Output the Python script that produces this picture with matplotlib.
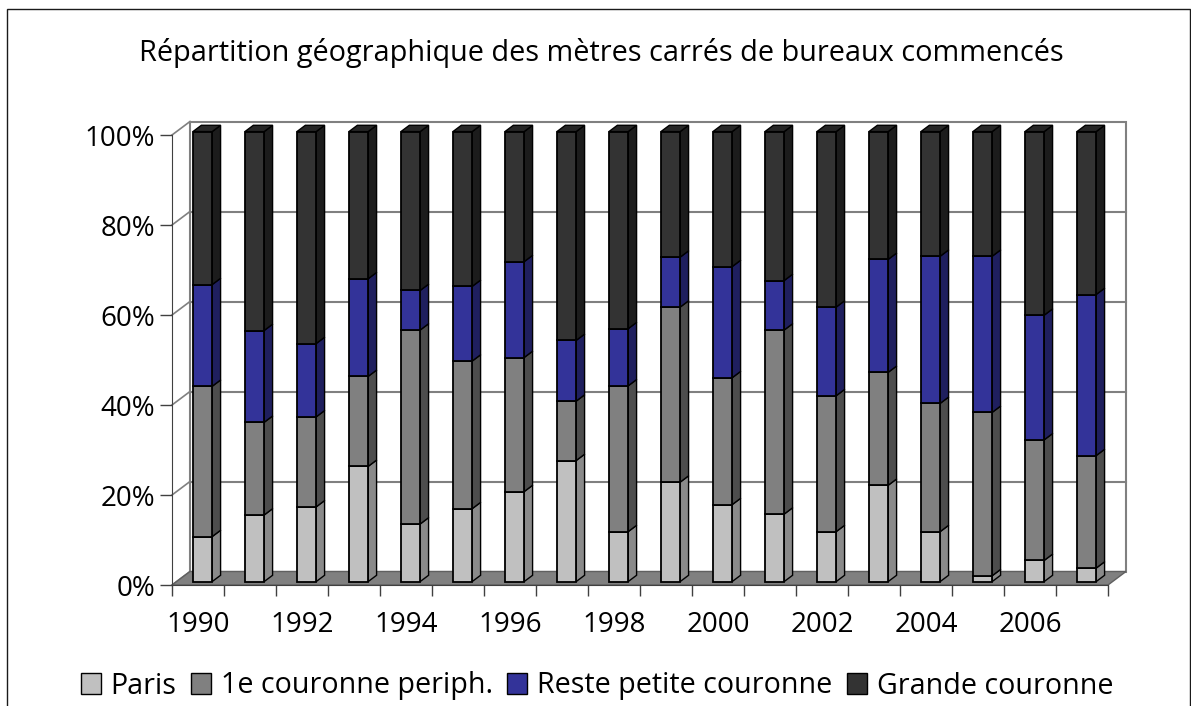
import matplotlib
matplotlib.use("Agg")
import matplotlib.pyplot as plt
from matplotlib.patches import Polygon, Patch, Rectangle
import numpy as np

plt.rcParams['font.family'] = ['Open Sans', 'DejaVu Sans']

# ---- data (percent shares) ----
years = list(range(1990, 2008))
paris = [10.0, 14.8, 16.6, 25.6, 12.8, 16.2, 20.0, 26.9, 11.1, 22.1, 17.1, 15.0, 11.1, 21.4, 11.1, 1.3, 4.7, 3.0]
premiere = [33.4, 20.6, 20.0, 20.0, 43.1, 32.8, 29.8, 13.2, 32.4, 38.9, 28.2, 40.9, 30.2, 25.1, 28.5, 36.3, 26.8, 25.0]
reste = [22.6, 20.4, 16.3, 21.7, 8.8, 16.6, 21.3, 13.5, 12.7, 11.1, 24.7, 11.0, 19.7, 25.1, 32.7, 34.7, 27.7, 35.8]
grande = [34.0, 44.2, 47.1, 32.7, 35.3, 34.4, 28.9, 46.4, 43.8, 27.9, 30.0, 33.1, 39.0, 28.4, 27.7, 27.7, 40.8, 36.2]

series_names = ["Paris", "1e couronne periph.", "Reste petite couronne", "Grande couronne"]
series = [paris, premiere, reste, grande]
front_colors = ["#C0C0C0", "#808080", "#333399", "#333333"]
side_colors = ["#8A8A8A", "#4D4D4D", "#1F1F5E", "#1C1C1C"]
top_color = "#262626"
title = "Répartition géographique des mètres carrés de bureaux commencés"
ytick_vals = [0, 20, 40, 60, 80, 100]

W, H = 1191, 706
fig = plt.figure(figsize=(W / 100, H / 100), dpi=100)
fig.patch.set_facecolor("white")

# outer frame
fig.patches.append(Rectangle((6.5 / W, -0.1), (1190.0 - 6.5) / W, 1.1 - 8.7 / H,
                             transform=fig.transFigure, fill=False,
                             edgecolor="#1a1a1a", linewidth=1.0, clip_on=False))

x0, x1, y0, y1 = 172, 1108, 585, 135
ax = fig.add_axes([x0 / W, (H - y0) / H, (x1 - x0) / W, (y0 - y1) / H])
n = len(years)
ax.set_xlim(0, n)
ax.set_ylim(0, 100)
ax.set_facecolor("none")

DX = 18 / 52.0      # depth offset in x data units
DY = 13.5 / 4.5     # depth offset in y data units


def P(x, y, d):
    return (x + d * DX, y + d * DY)


grid_col = "#808080"
# back wall
ax.add_patch(Polygon([P(0, 0, 1), P(n, 0, 1), P(n, 100, 1), P(0, 100, 1)], closed=True,
                     facecolor="white", edgecolor=grid_col, linewidth=1.5, zorder=0.5, clip_on=False))
for v in ytick_vals:
    if 0 < v < 100:
        ax.plot(*zip(P(0, v, 1), P(n, v, 1)), color=grid_col, lw=1.5, zorder=0.6, clip_on=False)
    ax.plot(*zip(P(0, v, 0), P(0, v, 1)), color=grid_col, lw=1.2, zorder=0.6, clip_on=False)
# floor
ax.add_patch(Polygon([P(0, 0, 0), P(n, 0, 0), P(n, 0, 1), P(0, 0, 1)], closed=True,
                     facecolor="#808080", edgecolor="#606060", linewidth=1.0, zorder=0.7, clip_on=False))

# bars
d0, d1 = 0.25, 0.72
bw = 0.37
centers = np.arange(n) + 0.5
bottoms = np.zeros(n)
for k, vals in enumerate(series):
    vals = np.array(vals)
    tops = bottoms + vals
    for i in range(n):
        xr = centers[i] + bw / 2
        side = [P(xr, bottoms[i], d0), P(xr, tops[i], d0), P(xr, tops[i], d1), P(xr, bottoms[i], d1)]
        ax.add_patch(Polygon(side, closed=True, facecolor=side_colors[k], edgecolor="black",
                             linewidth=1.0, zorder=2, clip_on=False))
        if k == len(series) - 1:
            xl = centers[i] - bw / 2
            top = [P(xl, tops[i], d0), P(xr, tops[i], d0), P(xr, tops[i], d1), P(xl, tops[i], d1)]
            ax.add_patch(Polygon(top, closed=True, facecolor=top_color, edgecolor="black",
                                 linewidth=1.0, zorder=2, clip_on=False))
    ax.bar(centers + d0 * DX, vals, bottom=bottoms + d0 * DY, width=bw,
           color=front_colors[k], edgecolor="black", linewidth=1.3, zorder=3, clip_on=False)
    bottoms = tops

# axes styling
for s in ["top", "right"]:
    ax.spines[s].set_visible(False)
ax.spines["left"].set_color("#404040")
ax.spines["bottom"].set_color("#404040")
ax.spines["left"].set_zorder(4)
ax.set_yticks(ytick_vals)
ax.set_yticklabels([f"{v}%" for v in ytick_vals], fontsize=20)
ax.tick_params(axis="y", length=9, width=1, pad=3, colors="#404040", labelcolor="black")
ax.set_xticks(np.arange(n + 1))
ax.set_xticklabels([])
ax.set_xticks(centers, minor=True)
ax.set_xticklabels([str(y) if (y - years[0]) % 2 == 0 else "" for y in years], minor=True, fontsize=20)
ax.tick_params(axis="x", which="major", length=8, width=1, colors="#404040")
ax.tick_params(axis="x", which="minor", length=0, pad=19, labelcolor="black")

fig.text(601 / W, 1 - 53 / H, title, ha="center", va="center", fontsize=20.8)

handles = [Patch(facecolor=c, edgecolor="black", linewidth=1.0) for c in front_colors]
fig.legend(handles, series_names, loc="center", bbox_to_anchor=(597 / W, 1 - 686 / H), ncol=4,
           frameon=False, fontsize=20.6, handlelength=0.7, handleheight=0.7,
           handletextpad=0.35, columnspacing=0.5, borderpad=0)

fig.savefig("out.png", dpi=100)
